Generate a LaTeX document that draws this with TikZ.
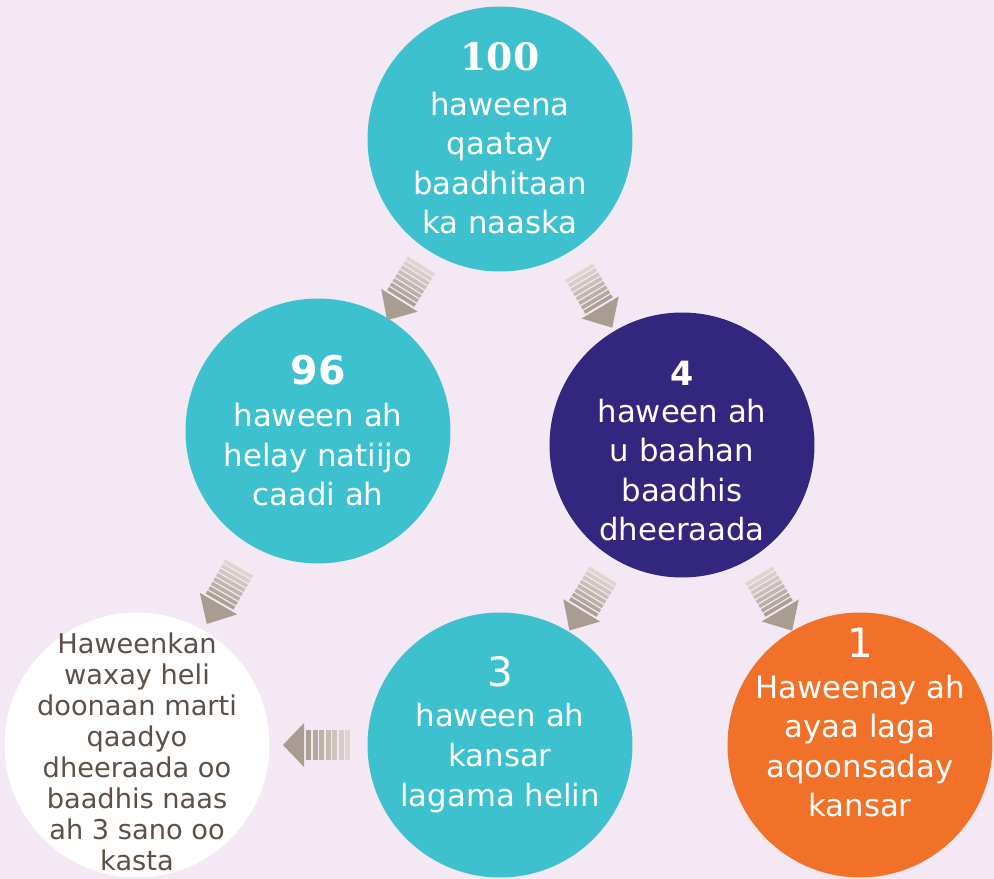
\documentclass[tikz,border=0pt]{standalone}
\usepackage{fontspec}
\setmainfont{DejaVu Sans}
\newfontfamily\serifnum{DejaVu Serif}
\definecolor{bgpink}{HTML}{F3E8F3}
\definecolor{tealdisc}{HTML}{3EC1CF}
\definecolor{purpledisc}{HTML}{32267F}
\definecolor{orangedisc}{HTML}{F27128}
\definecolor{browntext}{HTML}{5E5046}
\definecolor{stripelight}{HTML}{DDD6CF}
\definecolor{stripedark}{HTML}{ACA095}
\definecolor{arrowhead}{HTML}{A99C90}

\tikzset{
  disc/.style={circle, minimum size=5.3cm, inner sep=0pt},
  disctext/.style={text=white, align=center, inner sep=0pt, font=\fontsize{17.5}{22.5}\selectfont},
  discnum/.style={text=white, inner sep=0pt, font=\bfseries\fontsize{21}{21}\selectfont},
  diagarrow/.pic={
    \foreach \i in {0,...,7}{
      \pgfmathtruncatemacro{\mixpct}{100*\i/7}
      \fill[stripedark!\mixpct!stripelight] (-23.5+5.1*\i,-16) rectangle ++(3.6,32);
    }
    \fill[arrowhead] (18,-21.5) -- (41.5,0) -- (18,21.5) -- cycle;
  },
  sidearrow/.pic={
    \foreach \i in {0,...,6}{
      \pgfmathtruncatemacro{\mixpct}{100*\i/6}
      \fill[stripedark!\mixpct!stripelight] (-31.5+6.5*\i,-15) rectangle ++(5,30);
    }
    \fill[arrowhead] (14.5,-22) -- (35.5,0) -- (14.5,22) -- cycle;
  }
}

\begin{document}
\begin{tikzpicture}[x=0.02cm, y=-0.02cm]
  \useasboundingbox (0,0) rectangle (994,879);
  \fill[bgpink] (0,0) rectangle (994,879);

  % circles
  \node[disc, fill=tealdisc] (screened) at (500,139) {};
  \node[disc, fill=tealdisc] (normal) at (318,431) {};
  \node[disc, fill=purpledisc] (further) at (682,445) {};
  \node[disc, fill=tealdisc] (clear) at (500,745) {};
  \node[disc, fill=orangedisc] (cancer) at (860,745) {};
  \node[disc, fill=white] (advice) at (137,745) {};

  % texts
  \node[discnum, font=\serifnum\bfseries\fontsize{21.5}{21.5}\selectfont] (screened-n) at (500,57) {100};
  \node[disctext] (screened-t) at (500,163) {haweena\\ qaatay\\ baadhitaan\\ ka naaska};
  \node[discnum, font=\bfseries\fontsize{22.5}{22.5}\selectfont] (normal-n) at (318,370) {96};
  \node[disctext] (normal-t) at (318,455) {haween ah\\ helay natiijo\\ caadi ah};
  \node[discnum, font=\bfseries\fontsize{19}{19}\selectfont] (further-n) at (682,373) {4};
  \node[disctext] (further-t) at (682,470) {haween ah\\ u baahan\\ baadhis\\ dheeraada};
  \node[discnum, font=\fontsize{23}{23}\selectfont] (clear-n) at (500,672) {3};
  \node[disctext] (clear-t) at (500,758) {haween ah\\ kansar\\ lagama helin};
  \node[discnum, font=\fontsize{23}{23}\selectfont] (cancer-n) at (860,643) {1};
  \node[disctext] (cancer-t) at (860,746) {Haweenay ah\\ ayaa laga\\ aqoonsaday\\ kansar};
  \node[disctext, text=browntext, font=\fontsize{15.5}{17.6}\selectfont] (advice-t) at (137,752)
    {Haweenkan\\ waxay heli\\ doonaan marti\\ qaadyo\\ dheeraada oo\\ baadhis naas\\ ah 3 sano oo\\ kasta};

  % striped arrows
  \path (screened) -- (normal) pic[pos=0.5, sloped, allow upside down] {diagarrow};
  \path (screened) -- (further) pic[pos=0.5, sloped, allow upside down] {diagarrow};
  \path (normal) -- (advice) pic[pos=0.5, sloped, allow upside down] {diagarrow};
  \path (further) -- (clear) pic[pos=0.5, sloped, allow upside down] {diagarrow};
  \path (further) -- (cancer) pic[pos=0.5, sloped, allow upside down] {diagarrow};
  \path (clear) -- (advice) pic[pos=0.5, sloped, allow upside down] {sidearrow};
\end{tikzpicture}
\end{document}
